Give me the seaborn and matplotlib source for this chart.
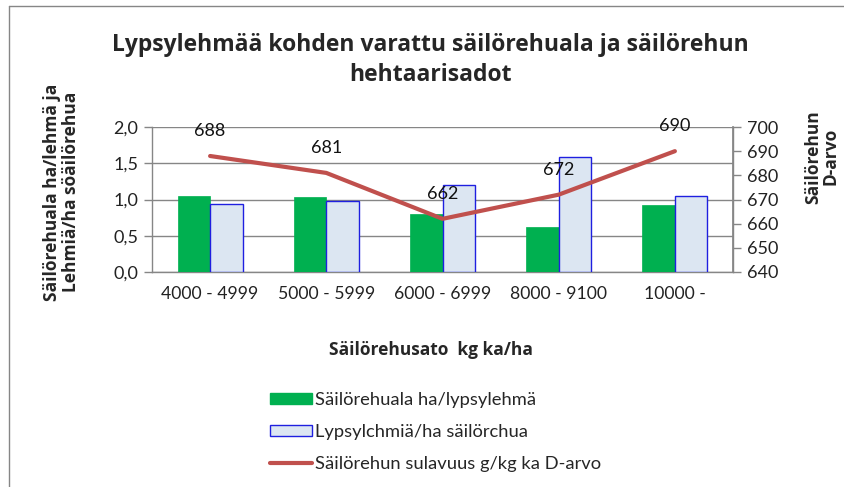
import numpy as np
import pandas as pd
import matplotlib
matplotlib.use("Agg")
import matplotlib.pyplot as plt
import matplotlib.lines as mlines
import matplotlib.patches as mpatches
import seaborn as sns

categories = ["4000 - 4999", "5000 - 5999", "6000 - 6999", "8000 - 9100", "10000 -"]
ala_per_lehma = [1.05, 1.04, 0.80, 0.62, 0.93]
lehmia_per_ha = [0.94, 0.98, 1.20, 1.59, 1.05]
d_arvo = [688, 681, 662, 672, 690]
left_ticks = [0.0, 0.5, 1.0, 1.5, 2.0]
left_tick_labels = ["0,0", "0,5", "1,0", "1,5", "2,0"]
right_ticks = [640, 650, 660, 670, 680, 690, 700]
series_names = ["Säilörehuala ha/lypsylehmä", "Lypsylchmiä/ha säilörchua", "Säilörehun sulavuus g/kg ka D-arvo"]

sns.set_theme(style="white")
plt.rcParams["font.family"] = ["Lato", "DejaVu Sans"]
BOLD = ["Open Sans", "DejaVu Sans"]

GREEN = "#00B050"
LIGHT = "#DCE6F2"
BLUE_EDGE = "#1F1FE0"
RED = "#C0504D"
GRAY = "#868686"

df = pd.DataFrame({
    "cat": categories * 2,
    "val": ala_per_lehma + lehmia_per_ha,
    "series": [series_names[0]] * len(categories) + [series_names[1]] * len(categories),
})

fig = plt.figure(figsize=(8.44, 4.87), dpi=100)
ax = fig.add_axes([152 / 844, 1 - 272 / 487, 581 / 844, 145 / 487])

sns.barplot(data=df, x="cat", y="val", hue="series", order=categories,
            hue_order=series_names[:2], palette=[GREEN, LIGHT], width=0.56,
            saturation=1, ax=ax, legend=False, zorder=3)
n = len(categories)
for i, p in enumerate(ax.patches[:2 * n]):
    if i < n:
        p.set_edgecolor(GREEN)
        p.set_linewidth(0.5)
    else:
        p.set_edgecolor(BLUE_EDGE)
        p.set_linewidth(1.0)

ax.set_ylim(0, 2.0)
ax.set_xlim(-0.5, n - 0.5)
ax.set_yticks(left_ticks)
ax.set_yticklabels(left_tick_labels, fontsize=13, color="#222222")
ax.set_xticks(range(n))
ax.set_xticklabels(categories, fontsize=12.7, color="#222222")
ax.set_xticks(np.arange(-0.5, n, 1.0), minor=True)
ax.tick_params(axis="x", which="major", length=0, pad=10)
ax.tick_params(axis="x", which="minor", length=7, color=GRAY, direction="out", width=1)
ax.tick_params(axis="y", length=6, color=GRAY, direction="out", width=1, left=True, pad=4)
ax.yaxis.grid(True, color=GRAY, linewidth=1)
ax.set_axisbelow(True)
ax.spines["top"].set_visible(False)
for s in ["left", "bottom", "right"]:
    ax.spines[s].set_color(GRAY)
    ax.spines[s].set_linewidth(1)

ax.set_xlabel("Säilörehusato  kg ka/ha", fontsize=12.5, fontweight="bold", family=BOLD)
ax.xaxis.set_label_coords(0.48, -0.54)
ax.xaxis.label.set_va("center")
ax.set_ylabel("Säilörehuala ha/lehmä ja\nLehmiä/ha söäilörehua", fontsize=12.5,
              fontweight="bold", family=BOLD, linespacing=1.1)
ax.yaxis.set_label_coords(-0.124, 0.55)

ax2 = ax.twinx()
sns.lineplot(x=np.arange(n), y=d_arvo, ax=ax2, color=RED, linewidth=3, sort=False, zorder=4)
ax2.set_ylim(640, 700)
ax2.set_yticks(right_ticks)
ax2.set_yticklabels([str(t) for t in right_ticks], fontsize=13, color="#222222")
ax2.tick_params(axis="y", length=6, color=GRAY, direction="out", width=1, right=True, pad=4)
for s in ["top", "left", "bottom"]:
    ax2.spines[s].set_visible(False)
ax2.spines["right"].set_color(GRAY)
ax2.set_ylabel("Säilörehun\nD-arvo", fontsize=12.5, fontweight="bold", family=BOLD, linespacing=1.0)
ax2.yaxis.set_label_coords(1.122, 0.795)
ax2.set_xlim(-0.5, n - 0.5)

for i, v in enumerate(d_arvo):
    ax2.annotate(str(v), (i, v), xytext=(0, 18), textcoords="offset points",
                 ha="center", va="center", fontsize=13, color="#111111")

fig.text(0.51, 1 - 45 / 487, "Lypsylehmää kohden varattu säilörehuala ja säilörehun",
         ha="center", va="center", fontsize=16.5, fontweight="bold", family=BOLD)
fig.text(0.51, 1 - 75 / 487, "hehtaarisadot",
         ha="center", va="center", fontsize=16.5, fontweight="bold", family=BOLD)

handles = [
    mpatches.Patch(facecolor=GREEN, edgecolor=GREEN),
    mpatches.Patch(facecolor=LIGHT, edgecolor=BLUE_EDGE, linewidth=1),
    mlines.Line2D([], [], color=RED, linewidth=3),
]
fig.legend(handles, series_names, loc="upper left", bbox_to_anchor=(270 / 844, 1 - 392 / 487),
           frameon=False, fontsize=13.2, handlelength=2.3, handleheight=0.55,
           handletextpad=0.15, labelspacing=0.86, borderpad=0, borderaxespad=0)

fig.add_artist(mlines.Line2D([9 / 844, 9 / 844], [0, 1 - 6 / 487], transform=fig.transFigure, color=GRAY, linewidth=1))
fig.add_artist(mlines.Line2D([9 / 844, 1], [1 - 6 / 487, 1 - 6 / 487], transform=fig.transFigure, color=GRAY, linewidth=1))

fig.savefig("out.png", dpi=100)
